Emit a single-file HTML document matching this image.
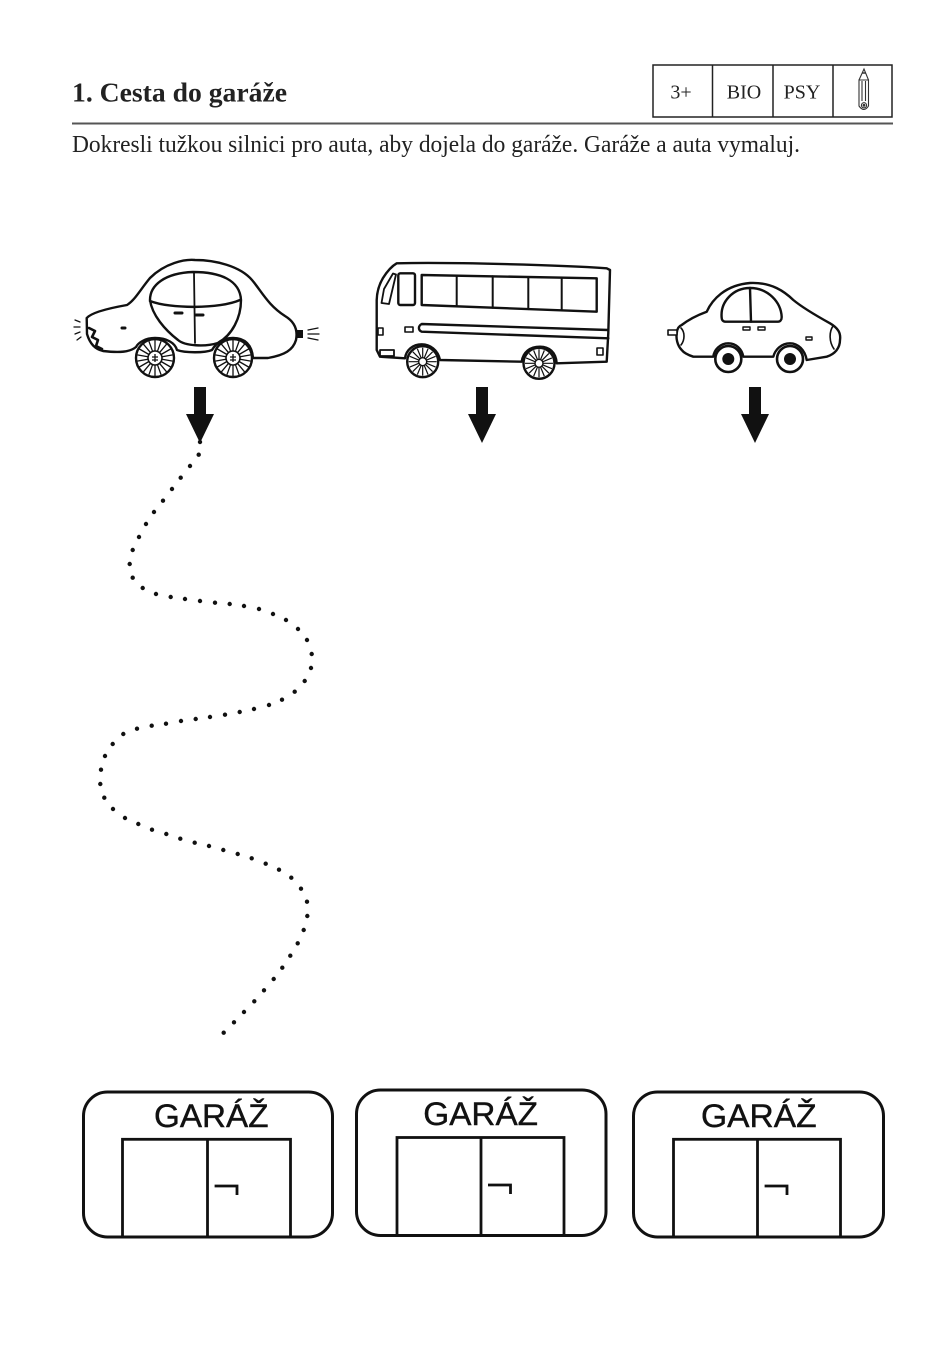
<!DOCTYPE html>
<html>
<head>
<meta charset="utf-8">
<style>
  html,body{margin:0;padding:0;background:#fff;}
  svg{display:block;}
</style>
</head>
<body>
<svg width="946" height="1345" viewBox="0 0 946 1345" xmlns="http://www.w3.org/2000/svg">
  <defs>
    <g id="wheel1" stroke="#111" fill="none">
      <circle r="19" fill="#fff" stroke-width="2.4"/>
      <path stroke-width="1.3" d="M0,-18L0,18M6.16,-16.91L-6.16,16.91M11.57,-13.79L-11.57,13.79M15.59,-9L-15.59,9M17.73,-3.13L-17.73,3.13M17.73,3.13L-17.73,-3.13M15.59,9L-15.59,-9M11.57,13.79L-11.57,-13.79M6.16,16.91L-6.16,-16.91"/>
      <circle r="7" fill="#fff" stroke-width="1.6"/>
      <path stroke-width="1.3" d="M-3,-1L3,-1M-3,2L3,2M0,-4L0,4"/>
    </g>
    <g id="wheel2" stroke="#111" fill="none">
      <circle r="15.5" fill="#fff" stroke-width="2.4"/>
      <path stroke-width="1.2" d="M0,-14L0,14M5.36,-12.93L-5.36,12.93M9.9,-9.9L-9.9,9.9M12.93,-5.36L-12.93,5.36M14,0L-14,0M12.93,5.36L-12.93,-5.36M9.9,9.9L-9.9,-9.9M5.36,12.93L-5.36,-12.93"/>
      <circle r="4" fill="#fff" stroke-width="1.4"/>
    </g>
    <g id="wheel3">
      <circle r="13" fill="#fff" stroke="#111" stroke-width="2.6"/>
      <circle r="6" fill="#111"/>
    </g>
  </defs>

  <!-- Header -->
  <text x="72" y="101.5" font-family="Liberation Serif, serif" font-weight="bold" font-size="27" fill="#222" textLength="215" lengthAdjust="spacingAndGlyphs">1. Cesta do garáže</text>
  <line x1="72" y1="123.5" x2="893" y2="123.5" stroke="#555" stroke-width="2"/>
  <text x="72" y="152" font-family="Liberation Serif, serif" font-size="24" fill="#222" textLength="728" lengthAdjust="spacingAndGlyphs">Dokresli tužkou silnici pro auta, aby dojela do garáže. Garáže a auta vymaluj.</text>

  <!-- Table -->
  <g stroke="#222" stroke-width="1.5" fill="none">
    <rect x="653" y="65" width="239" height="52"/>
    <path d="M712.5,65V117M773,65V117M833,65V117"/>
  </g>
  <g font-family="Liberation Serif, serif" font-size="20" fill="#222" text-anchor="middle">
    <text x="681" y="98.5">3+</text>
    <text x="744" y="98.5">BIO</text>
    <text x="802" y="98.5">PSY</text>
  </g>
  <!-- Pencil -->
  <g stroke="#333" stroke-width="1.1" fill="none">
    <path d="M859,80 L864,69 L868.5,80"/>
    <path d="M862.3,73 L865.7,73" stroke-width="1.5"/>
    <path d="M859,80 L859,106 Q864,113 868.5,106 L868.5,80 Z"/>
    <path d="M862,81V101M865.5,81V101"/>
    <circle cx="864" cy="105.3" r="2.6"/>
    <circle cx="864" cy="105.3" r="0.9" fill="#333"/>
  </g>

  <!-- Car 1 (beetle) -->
  <g stroke="#111" stroke-width="2.4" fill="none" stroke-linecap="round" stroke-linejoin="round">
    <path d="M86.7,318 C92,312 110,308 127,305 C135,300 140,290 150,278 C165,263 185,259 195,260 C215,260 240,266 252,280 C262,292 268,305 285,316 C295,322 298,330 296,340 C293,350 285,355 268,358 L253,358 C252,345 245,338 233,338 C221,338 215,345 212,350 C205,353 185,353 177,350 C175,343 167,338 155,338 C145,338 138,343 136,347 C130,352 120,353 103,351 C95,349 90,344 87,334 Z"/>
    <path d="M150,300 C150,285 165,273 193,272 C220,272 240,280 241,300 C241,318 232,335 218,343 C205,347 185,346 178,340 C165,330 152,315 150,300 Z"/>
    <path d="M150,301 C170,309 220,309 240,300"/>
    <path d="M194,273 L195,343" stroke-width="1.8"/>
    <path d="M175,313 L182,313 M196,315 L203,315 M122,328 L125,328" stroke-width="3"/>
    <path d="M308,330 L318,328 M308,334 L319,334 M308,338 L318,340" stroke-width="1.3"/>
    <path d="M75,320 L80,322 M74,327 L80,327 M75,334 L80,332 M77,340 L81,337" stroke-width="1.3"/>
    <path d="M89,328 L95,331 L92,337 L98,340 L96,346 L102,349" stroke-width="2.6"/>
  </g>
  <rect x="297" y="330" width="6" height="8" fill="#111"/>
  <use href="#wheel1" x="155" y="358"/>
  <use href="#wheel1" x="233" y="358"/>

  <!-- Bus -->
  <g stroke="#111" stroke-width="2.4" fill="none" stroke-linecap="round" stroke-linejoin="round">
    <path d="M396.7,263.3 C450,262 560,265 606.7,268.3 L610,270 L608.3,333 L606.7,361.7 L556.7,363.3 C556,352 549,346.7 540,346.7 C530,346.7 523,352 521.7,361.7 L440,360 C438,350 430,344.3 421.7,344.3 C413,344.3 406,350 405,358.3 L380,356.7 L376.7,350 L376.7,300 C377,290 380,283 383,278 C388,270 392,266 396.7,263.3 Z"/>
    <path d="M381.5,303 L384,289 L393,273.5 L396,274.5 L389,304 Z" stroke-width="1.8"/>
    <rect x="398.3" y="273.3" width="16.7" height="31.7" rx="2"/>
    <path d="M421.7,275 L596.7,278.3 L596.7,311.7 L421.7,305 Z"/>
    <path d="M456.7,275.7 L456.7,306.3 M492.7,276.3 L492.7,307.7 M528.3,277 L528.3,309.1 M561.7,277.6 L561.7,310.4" stroke-width="2"/>
    <path d="M608.3,330 L421.7,324 C418,326 418,330 421.7,331.7 L608.3,338.3"/>
    <rect x="378" y="328" width="5" height="7" stroke-width="1.6"/>
    <rect x="405" y="327" width="8" height="5" stroke-width="1.6"/>
    <rect x="380" y="350" width="14" height="6" stroke-width="1.8"/>
    <rect x="597" y="348" width="6" height="7" stroke-width="1.6"/>
  </g>
  <use href="#wheel2" x="422.7" y="361.7"/>
  <use href="#wheel2" x="539" y="363.3"/>

  <!-- Car 3 -->
  <g stroke="#111" stroke-width="2.4" fill="none" stroke-linecap="round" stroke-linejoin="round">
    <path d="M681.7,350 C677,345 676,338 676.7,333.3 C677,328 679,326 681.7,325 C688,320 695,316 706.7,311.7 C712,300 725,285 750,283 C772,282 785,292 793.3,300 C803,308 815,315 830,323.3 C838,328 841,333 840,340 C840,348 835,354 826.7,356.7 L806.7,360 C805,350 798,343.3 790,343.3 C781,343.3 775,350 773.3,356.7 L743.3,356.7 C742,349 736,343.3 728.3,343.3 C720,343.3 714,350 713.3,356.7 L693.3,356.7 C688,355 684,353 681.7,350 Z"/>
    <path d="M721.7,318 C720,302 733,288 750,288 C768,288 781,302 781.7,317 C781.7,320 780,321.7 778,321.7 L726,321.7 C723,321.7 721.7,320 721.7,318 Z"/>
    <path d="M750,288 L751,321.7"/>
    <path d="M743,327h7v3h-7zM758,327h7v3h-7zM806,337h6v3h-6z" stroke-width="1.4"/>
    <rect x="668" y="330" width="9" height="5" stroke-width="1.6" fill="#fff"/>
    <path d="M681,328 C685,332 685,340 681,345 M833,326 C829,332 829,342 834,349" stroke-width="1.6"/>
  </g>
  <use href="#wheel3" x="728.3" y="359"/>
  <use href="#wheel3" x="790" y="359"/>

  <!-- Arrows -->
  <g fill="#111">
    <polygon points="194,387 206,387 206,414 214,414 200,443 186,414 194,414"/>
    <polygon points="476,387 488,387 488,414 496,414 482,443 468,414 476,414"/>
    <polygon points="749,387 761,387 761,414 769,414 755,443 741,414 749,414"/>
  </g>

  <!-- Dotted road -->
  <path fill="none" stroke="#111" stroke-width="4.4" stroke-linecap="round" d="M200 442h0M198.7 454.7h0M190 466h0M180.7 477.7h0M172 489h0M163 500.7h0M154 512h0M146 524h0M139 537h0M132.7 550h0M129.7 564h0M132.7 577.7h0M142.7 588h0M156 594h0M170.7 597h0M185 599h0M200 601h0M215 602.7h0M229.7 604h0M244 606h0M259 609h0M273 614h0M286 620h0M298 629h0M307 640h0M311.7 654h0M311 668h0M304.7 681h0M294.7 691.7h0M282 699.7h0M269 705h0M254 709h0M239.7 712h0M225 714.7h0M210 717h0M195.7 719h0M181 721h0M166 723.7h0M151.7 725.7h0M137 728.7h0M123.3 734h0M112.7 744h0M105 756h0M101 769.7h0M100.3 784h0M104.3 797.7h0M113 809h0M125 818h0M138.3 824h0M152 829.7h0M166.3 834h0M180.3 838.7h0M194.7 842.7h0M209 846h0M223.3 850h0M237.7 854h0M251.7 858.3h0M265.7 863.7h0M279 869.7h0M291.3 877.7h0M301 888.7h0M307 901.7h0M307.3 916h0M303.7 930h0M297.7 943.3h0M290.3 955.7h0M282.3 967.7h0M273.7 979h0M264 990.3h0M254.3 1001.3h0M244 1012h0M234 1022.3h0M223.7 1032.7h0"/>

  <!-- Garages -->
  <g stroke="#111" fill="none" stroke-width="3">
    <rect x="83.5" y="1092" width="249" height="145" rx="24"/>
    <rect x="356.5" y="1090" width="249.5" height="145.5" rx="24"/>
    <rect x="633.5" y="1092" width="250" height="145" rx="24"/>
  </g>
  <g stroke="#111" fill="none" stroke-width="2.8">
    <rect x="122.5" y="1139.3" width="168" height="97.7"/>
    <path d="M207.5,1139.3V1237M214.6,1186H237V1195"/>
    <rect x="397" y="1137.5" width="167" height="98"/>
    <path d="M481,1137.5V1235.5M488,1185H510.5V1194"/>
    <rect x="673.5" y="1139.3" width="167" height="97.7"/>
    <path d="M757.5,1139.3V1237M764.6,1186H787V1195"/>
  </g>
  <g font-family="Liberation Sans, sans-serif" font-size="32" fill="#111" stroke="#111" stroke-width="0.4">
    <text x="154" y="1127" textLength="114.5" lengthAdjust="spacingAndGlyphs">GARÁŽ</text>
    <text x="423.3" y="1125" textLength="114.7" lengthAdjust="spacingAndGlyphs">GARÁŽ</text>
    <text x="701" y="1127" textLength="115.6" lengthAdjust="spacingAndGlyphs">GARÁŽ</text>
  </g>
</svg>
</body>
</html>
